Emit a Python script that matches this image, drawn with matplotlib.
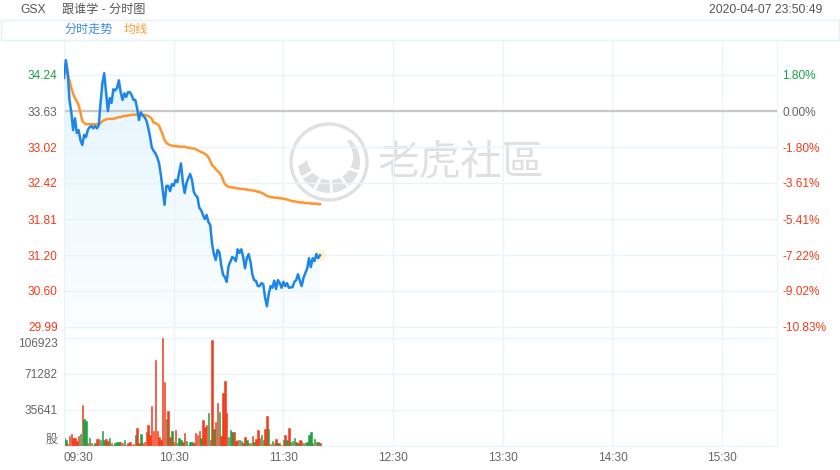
import numpy as np
import matplotlib
matplotlib.use("Agg")
import matplotlib.pyplot as plt
from matplotlib.colors import LinearSegmentedColormap
from matplotlib.patches import Circle, Polygon, Rectangle

plt.rcParams['font.family'] = ['Liberation Sans', 'Noto Sans CJK SC', 'DejaVu Sans']

# GSX intraday, one value per minute from 09:30
prev_close = 33.63
price = [34.19, 34.49, 34.29, 33.82, 33.61, 33.31, 33.51, 33.26, 33.31, 33.14,
         33.06, 33.23, 33.19, 33.31, 33.36, 33.38, 33.34, 33.38, 33.34, 33.39,
         33.77, 34.10, 34.27, 33.95, 33.63, 33.85, 33.77, 34.00, 33.98, 34.02,
         34.15, 33.95, 33.82, 33.93, 33.87, 33.95, 33.95, 33.90, 33.82, 33.82,
         33.68, 33.48, 33.61, 33.56, 33.53, 33.48, 33.36, 33.21, 33.02, 32.96,
         32.92, 32.85, 32.75, 32.55, 32.30, 32.05, 32.37, 32.37, 32.28, 32.40,
         32.37, 32.47, 32.43, 32.60, 32.75, 32.43, 32.25, 32.42, 32.50, 32.57,
         32.47, 32.27, 32.21, 32.18, 32.00, 31.96, 31.88, 31.81, 31.88, 31.76,
         31.71, 31.39, 31.22, 31.12, 31.29, 31.25, 31.03, 30.87, 30.83, 30.75,
         31.02, 31.09, 31.17, 31.15, 31.10, 31.30, 31.24, 31.30, 31.17, 30.98,
         31.15, 31.22, 31.09, 30.88, 30.78, 30.77, 30.68, 30.68, 30.73, 30.71,
         30.48, 30.34, 30.55, 30.68, 30.65, 30.77, 30.63, 30.78, 30.73, 30.65,
         30.75, 30.68, 30.73, 30.65, 30.66, 30.66, 30.75, 30.78, 30.88, 30.77,
         30.68, 30.82, 30.90, 30.97, 31.15, 31.00, 31.15, 31.10, 31.22, 31.15,
         31.20]
avg_price = [34.32, 34.29, 34.25, 34.15, 34.02, 33.92, 33.85, 33.80, 33.73, 33.61,
             33.46, 33.43, 33.41, 33.41, 33.41, 33.41, 33.41, 33.41, 33.41, 33.41,
             33.43, 33.46, 33.48, 33.49, 33.50, 33.50, 33.50, 33.50, 33.51, 33.52,
             33.53, 33.53, 33.54, 33.55, 33.55, 33.56, 33.56, 33.57, 33.57, 33.57,
             33.57, 33.57, 33.57, 33.57, 33.57, 33.56, 33.55, 33.53, 33.50, 33.44,
             33.43, 33.41, 33.38, 33.31, 33.23, 33.14, 33.10, 33.07, 33.06, 33.05,
             33.04, 33.04, 33.04, 33.03, 33.03, 33.03, 33.03, 33.02, 33.01, 33.01,
             33.00, 33.00, 32.99, 32.97, 32.96, 32.94, 32.93, 32.91, 32.89, 32.85,
             32.79, 32.72, 32.69, 32.65, 32.62, 32.59, 32.55, 32.47, 32.40, 32.37,
             32.35, 32.35, 32.34, 32.34, 32.33, 32.33, 32.32, 32.32, 32.32, 32.31,
             32.31, 32.30, 32.30, 32.29, 32.29, 32.28, 32.27, 32.27, 32.25, 32.24,
             32.22, 32.20, 32.19, 32.18, 32.18, 32.17, 32.17, 32.17, 32.16, 32.16,
             32.15, 32.15, 32.14, 32.13, 32.12, 32.11, 32.11, 32.10, 32.10, 32.09,
             32.09, 32.09, 32.08, 32.08, 32.08, 32.07, 32.07, 32.07, 32.07, 32.06,
             32.06]
volume = [7600, 6000, 2000, 10000, 11500, 7600, 7600, 5000, 10000, 11500,
          41000, 26400, 25000, 3300, 8250, 2600, 1000, 2600, 7000, 7000,
          6000, 14500, 6000, 6600, 5000, 7600, 3300, 1300, 2600, 4300,
          4300, 4000, 3300, 6000, 700, 2600, 3600, 700, 1600, 11000,
          17500, 2600, 12000, 3300, 3600, 14000, 21000, 10500, 40000, 15000,
          85000, 15000, 8600, 6000, 106923, 63700, 26700, 35000, 8600, 15000,
          4300, 15800, 3300, 7600, 6000, 4000, 12500, 5300, 1000, 4000,
          3600, 2600, 12500, 11000, 15000, 7600, 25700, 19000, 20500, 33000,
          6000, 105000, 16500, 24000, 42200, 33300, 10200, 52800, 64000, 32700,
          9200, 15800, 14200, 13500, 5300, 6000, 6000, 5000, 2600, 8600,
          6000, 2600, 2600, 10000, 4300, 7300, 15800, 7600, 11000, 6000,
          16800, 29700, 16500, 2000, 5000, 2600, 6600, 3300, 3300, 1000,
          6000, 11000, 6000, 17500, 4300, 5000, 7600, 3600, 3300, 6000,
          5300, 2600, 2600, 4000, 11000, 13500, 2600, 6600, 4000, 3600,
          2600]
# r = up bar, g = down bar
bar_dir = ("ggrrrrrrrg" "rggrgrggrr" "gggrrgrrgg" "grrgrrrrrg" "rrgrrrrrrr"
           "rrrrrrgrrg" "rrgggrrgrg" "grrrrgrrrg" "rrgrrgrrrr" "gggrrrggrr"
           "grgrgrrrgg" "rrgrgrrgrr" "grgrgggrgr" "rgrgggrgrg" "r")

price_ticks = [34.24, 33.63, 33.02, 32.42, 31.81, 31.20, 30.60, 29.99]
price_labels = ["34.24", "33.63", "33.02", "32.42", "31.81", "31.20", "30.60", "29.99"]
pct_labels = ["1.80%", "0.00%", "-1.80%", "-3.61%", "-5.41%", "-7.22%", "-9.02%", "-10.83%"]
vol_ticks = [0, 35641, 71282, 106923]
vol_labels = ["股", "35641", "71282", "106923"]
time_ticks = [0, 60, 120, 180, 240, 300, 360]
time_labels = ["09:30", "10:30", "11:30", "12:30", "13:30", "14:30", "15:30"]

RED = '#f23c1a'
GREEN = '#18a343'
GRAY = '#666666'
BLUE = '#1e86ea'
ORANGE = '#ff952c'
GRID = '#e8f3fb'

W, H = 840, 470


def box(l, t, r, b):
    return [l / W, 1 - b / H, (r - l) / W, (b - t) / H]


def tick_color(v):
    if v > prev_close + 0.001:
        return GREEN
    if v < prev_close - 0.001:
        return RED
    return GRAY


fig = plt.figure(figsize=(8.4, 4.7), dpi=100)

# background layer: header, legend band, watermark
bg = fig.add_axes([0, 0, 1, 1], zorder=0)
bg.set_xlim(0, W)
bg.set_ylim(H, 0)
bg.axis('off')
bg.text(20, 10, "GSX", va='center', fontsize=8.7, color='#555555')
bg.text(62, 10, "跟谁学 - 分时图", va='center', fontsize=8.7, color='#555555')
bg.text(822, 10, "2020-04-07 23:50:49", va='center', ha='right', fontsize=8.7, color='#555555')
bg.add_patch(Rectangle((0.5, 20), 838.5, 20, fill=False, ec='#e4f0f9', lw=1))
bg.text(64, 30, "分时走势", va='center', fontsize=8.7, color='#3a8ee6')
bg.text(124, 30, "均线", va='center', fontsize=8.7, color='#ff9a36')

# watermark logo: ring with a striped crescent inside
wm = '#e0e0e0'
cx, cy = 329, 162
bg.add_patch(Circle((cx, cy), 38, fill=False, ec=wm, lw=2.4))
t_out = np.deg2rad(np.linspace(-45, 172, 60))
t_in = t_out[::-1]
outer = np.c_[cx + 31 * np.cos(t_out), cy + 31 * np.sin(t_out)]
inner = np.c_[cx + 1 + 23 * np.cos(t_in), cy - 5 + 23 * np.sin(t_in)]
bg.add_patch(Polygon(np.vstack([outer, inner]), closed=True, color=wm, lw=0))
for a in [150, 118, 85, 52, 18]:
    t = np.deg2rad(a)
    bg.plot([cx + 16 * np.cos(t), cx + 32 * np.cos(t)],
            [cy + 16 * np.sin(t), cy + 32 * np.sin(t)], color='white', lw=2.0)
bg.text(378, 163, "老虎社區", va='center', fontsize=30, color=wm,
        family=['Noto Sans CJK TC', 'DejaVu Sans'])

# price panel
ax = fig.add_axes(box(64, 40, 777, 330), zorder=2)
ax.patch.set_alpha(0)
axv = fig.add_axes(box(64, 330, 777, 446), zorder=2, sharex=ax)
axv.patch.set_alpha(0)

minutes = np.arange(len(price))
ylo, yhi = 29.939, 34.830

grad = np.linspace(0, 1, 256).reshape(-1, 1)
cmap = LinearSegmentedColormap.from_list('fade', ['#fbfeff', '#e2f4fd'])
im = ax.imshow(grad, cmap=cmap, aspect='auto', origin='lower',
               extent=[0, 390, ylo, yhi], zorder=1)
poly = ax.fill_between(minutes, price, ylo, color='none', lw=0)
im.set_clip_path(poly.get_paths()[0], transform=ax.transData)

ax.axhline(prev_close, color='#c8c8c8', lw=1.6, zorder=2)
ax.plot(minutes, avg_price, color=ORANGE, lw=1.8, zorder=3)
ax.plot(minutes, price, color=BLUE, lw=1.8, zorder=4)
ax.scatter([minutes[-1]], [price[-1]], s=70, color='#fff1b8', alpha=0.7, lw=0, zorder=3)

ax.set_xlim(0, 390)
ax.set_ylim(ylo, yhi)
ax.set_yticks(price_ticks, price_labels)
ax.set_xticks(time_ticks)
ax.tick_params(axis='x', length=0, labelbottom=False)
ax.tick_params(axis='y', length=0, pad=4.5, labelsize=8.6)
for lab, v in zip(ax.get_yticklabels(), price_ticks):
    lab.set_color(tick_color(v))
ax.grid(color=GRID, lw=1, zorder=0)
for s in ['top', 'left', 'right']:
    ax.spines[s].set_color(GRID)
ax.spines['bottom'].set_visible(False)

ax2 = ax.twinx()
ax2.set_ylim(ylo, yhi)
ax2.set_yticks(price_ticks, pct_labels)
ax2.tick_params(axis='y', length=0, pad=3.8, labelsize=8.6)
for lab, v in zip(ax2.get_yticklabels(), price_ticks):
    lab.set_color(tick_color(v))
for s in ax2.spines.values():
    s.set_visible(False)

# volume panel
colors = [RED if c == 'r' else GREEN for c in bar_dir]
axv.bar(minutes, volume, width=0.8, color=colors, edgecolor=colors, lw=0.4, zorder=2)
axv.set_ylim(0, 106923 * 116 / 108)
axv.set_yticks(vol_ticks, vol_labels)
axv.tick_params(axis='y', length=0, pad=4.5, labelsize=8.6, labelcolor=GRAY)
labs = axv.get_yticklabels()
labs[0].set_va('bottom')
labs[-1].set_va('top')
axv.set_xticks(time_ticks, time_labels)
axv.tick_params(axis='x', length=0, pad=4, labelsize=8.6, labelcolor=GRAY)
axv.get_xticklabels()[0].set_ha('left')
axv.grid(color=GRID, lw=1, zorder=0)
for s in ['left', 'right', 'bottom']:
    axv.spines[s].set_color(GRID)
axv.spines['top'].set_visible(False)

fig.savefig("out.png", dpi=100)
